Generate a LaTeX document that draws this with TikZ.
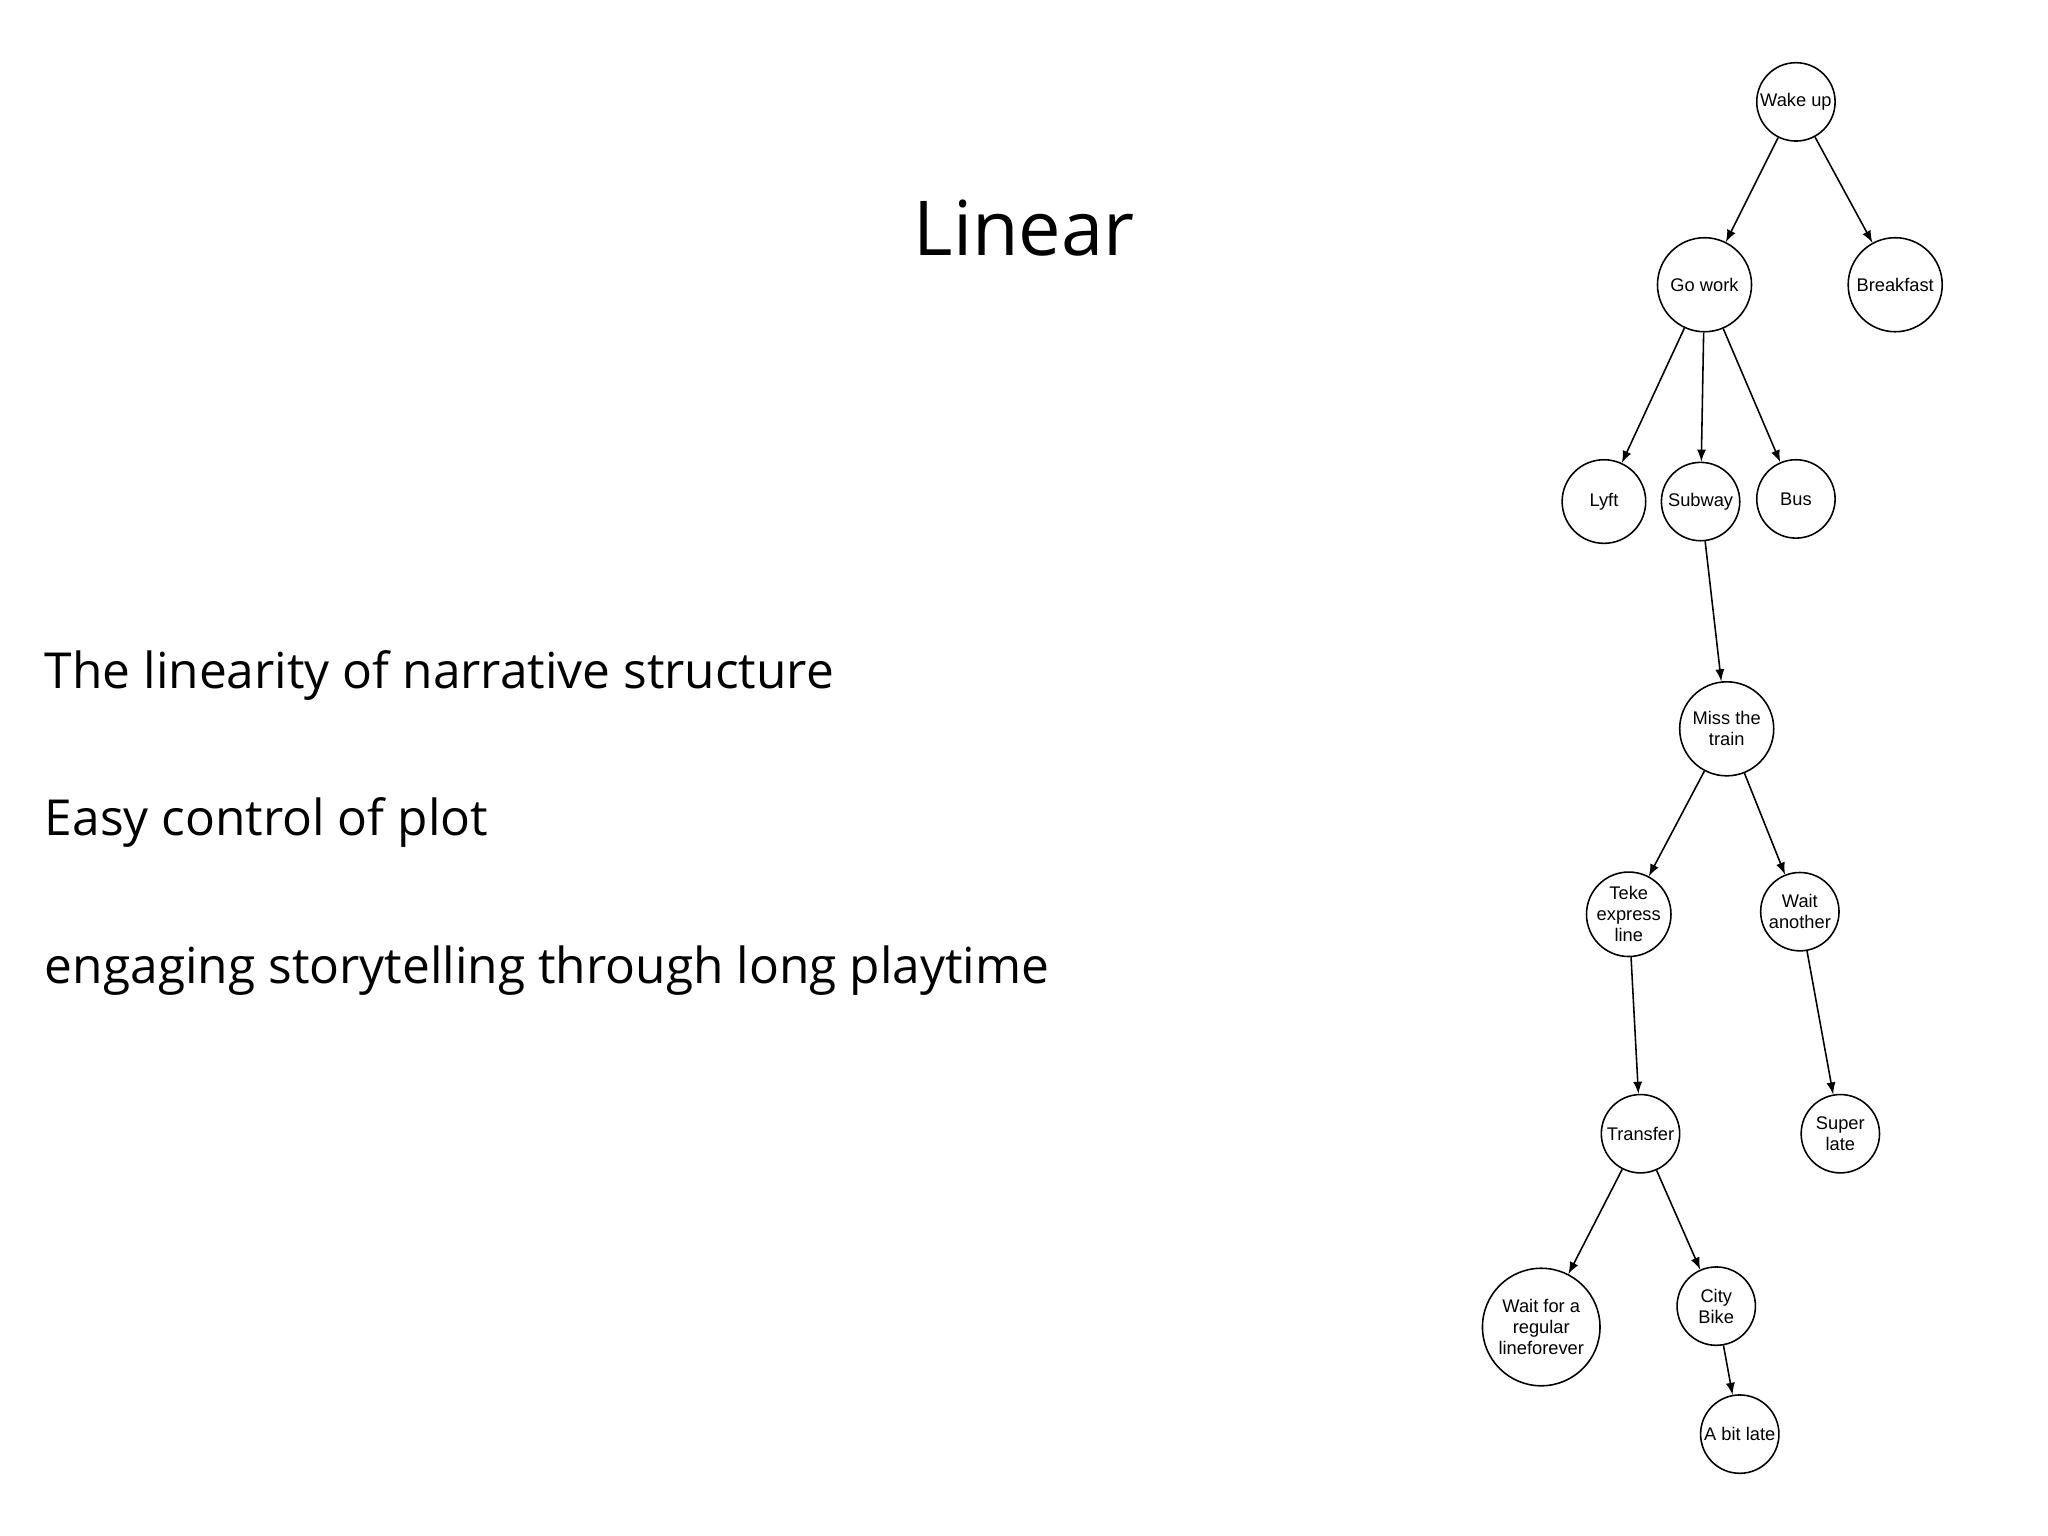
\documentclass[tikz,border=0pt]{standalone}
\usepackage{fontspec}
\setmainfont{Liberation Sans}
\newfontfamily\slide{Open Sans}
\begin{document}
\begin{tikzpicture}[x=0.5pt,y=-0.5pt,
  st/.style={circle,draw,line width=0.6pt,inner sep=0pt,align=center,font=\fontsize{7}{8}\selectfont},
  ar/.style={-latex,line width=0.6pt,shorten >=0pt},
  big/.style={font=\slide\fontsize{19}{22}\selectfont,anchor=base west,inner sep=0pt}]
\useasboundingbox[fill=white] (0,0) rectangle (1568,1176);
\node[font=\slide\fontsize{29}{32}\selectfont] (title) at (784,175) {Linear};
\node[big] (l1) at (34,527) {The linearity of narrative structure};
\node[big] (l2) at (34,640) {Easy control of plot};
\node[big] (l3) at (34,753) {engaging storytelling through long playtime};
\node[st,minimum size=60pt*0.5] (wake) at (1375,78) {Wake up};
\node[st,minimum size=72pt*0.5] (go) at (1305,218) {Go work};
\node[st,minimum size=72pt*0.5] (bf) at (1451,218) {Breakfast};
\node[st,minimum size=64pt*0.5] (lyft) at (1228,384) {Lyft};
\node[st,minimum size=60pt*0.5] (sub) at (1302,384) {Subway};
\node[st,minimum size=60pt*0.5] (bus) at (1375,382) {Bus};
\node[st,minimum size=72pt*0.5] (miss) at (1322,558) {Miss the\\train};
\node[st,minimum size=60pt*0.5] (teke) at (1247,700) {Teke\\express\\line};
\node[st,minimum size=60pt*0.5] (wait) at (1378,698) {Wait\\another};
\node[st,minimum size=60pt*0.5] (tr) at (1256,868) {Transfer};
\node[st,minimum size=60pt*0.5] (super) at (1409,868) {Super\\late};
\node[st,minimum size=90pt*0.5] (reg) at (1180,1016) {Wait for a\\regular\\lineforever};
\node[st,minimum size=60pt*0.5] (city) at (1314,1000) {City\\Bike};
\node[st,minimum size=60pt*0.5] (abit) at (1332,1098) {A bit late};
\draw[ar] (wake) -- (go);
\draw[ar] (wake) -- (bf);
\draw[ar] (go) -- (lyft);
\draw[ar] (go) -- (sub);
\draw[ar] (go) -- (bus);
\draw[ar] (sub) -- (miss);
\draw[ar] (miss) -- (teke);
\draw[ar] (miss) -- (wait);
\draw[ar] (teke) -- (tr);
\draw[ar] (wait) -- (super);
\draw[ar] (tr) -- (reg);
\draw[ar] (tr) -- (city);
\draw[ar] (city) -- (abit);
\end{tikzpicture}
\end{document}
